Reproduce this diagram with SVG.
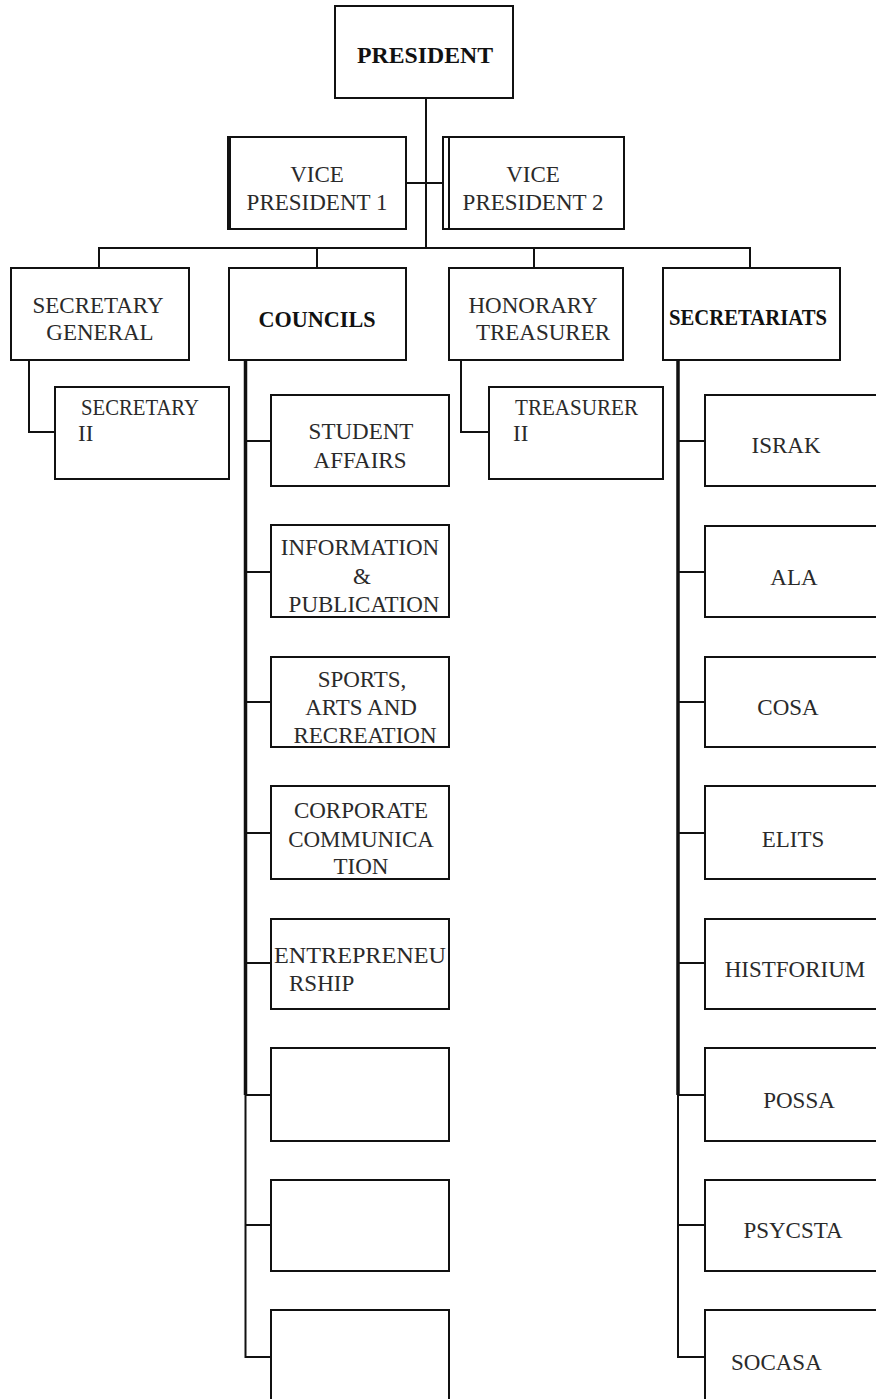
<svg xmlns="http://www.w3.org/2000/svg" width="876" height="1399" viewBox="0 0 876 1399">
<style>
.box{fill:#fff;stroke:#111;stroke-width:2}
.ln{fill:none;stroke:#111;stroke-width:2}
.thk{fill:none;stroke:#111;stroke-width:3.5}
text{font-family:"Liberation Serif","Times New Roman",serif;font-size:23px;fill:#2a2a2a}
.c{text-anchor:middle}
.b{font-weight:bold;fill:#111}
</style>
<rect width="876" height="1399" fill="#fff"/>
<g id="connectors">
<path class="ln" d="M426 98V248"/>
<path class="ln" d="M406 183H443"/>
<path class="ln" d="M99 268V248H750V268"/>
<path class="ln" d="M317 248V268"/>
<path class="ln" d="M534 248V268"/>
<path class="ln" d="M29 360V432H55"/>
<path class="ln" d="M461 360V432H489"/>
<path class="thk" d="M245.5 356V1095"/>
<path class="ln" d="M245.5 1095V1357H271"/>
<path class="ln" d="M245 441H271M245 572H271M245 702H271M245 833H271M245 963H271M245 1095H271M245 1225H271"/>
<path class="thk" d="M678 356V1095"/>
<path class="ln" d="M678 1095V1357H705"/>
<path class="ln" d="M678 441H705M678 572H705M678 702H705M678 833H705M678 963H705M678 1095H705M678 1225H705"/>
</g>
<g id="president"><rect class="box" x="335" y="6" width="178" height="92"/><text class="c b" x="425" y="63" font-size="24" textLength="136" lengthAdjust="spacingAndGlyphs">PRESIDENT</text></g>
<g id="vp1"><rect class="box" x="228" y="137" width="178" height="92"/><path class="ln" d="M230 137V229"/><text class="c" x="317" y="182">VICE</text><text class="c" x="317" y="210">PRESIDENT 1</text></g>
<g id="vp2"><rect class="box" x="443" y="137" width="181" height="92"/><path class="ln" d="M449 137V229"/><text class="c" x="533" y="182">VICE</text><text class="c" x="533" y="210">PRESIDENT 2</text></g>
<g id="secretary-general"><rect class="box" x="11" y="268" width="178" height="92"/><text class="c" x="98" y="313">SECRETARY</text><text class="c" x="100" y="340">GENERAL</text></g>
<g id="councils"><rect class="box" x="229" y="268" width="177" height="92"/><text class="c b" x="317" y="327" font-size="23" textLength="117" lengthAdjust="spacingAndGlyphs">COUNCILS</text></g>
<g id="honorary-treasurer"><rect class="box" x="449" y="268" width="174" height="92"/><text class="c" x="533" y="313">HONORARY</text><text class="c" x="543" y="340">TREASURER</text></g>
<g id="secretariats"><rect class="box" x="663" y="268" width="177" height="92"/><text class="c b" x="748" y="325" font-size="22" textLength="158" lengthAdjust="spacingAndGlyphs">SECRETARIATS</text></g>
<g id="secretary-ii"><rect class="box" x="55" y="387" width="174" height="92"/><text x="81" y="415" font-size="20" textLength="118" lengthAdjust="spacingAndGlyphs">SECRETARY</text><text x="78" y="441" font-size="20">II</text></g>
<g id="treasurer-ii"><rect class="box" x="489" y="387" width="174" height="92"/><text x="515" y="415" font-size="20" textLength="123" lengthAdjust="spacingAndGlyphs">TREASURER</text><text x="513" y="441" font-size="20">II</text></g>
<g id="student-affairs"><rect class="box" x="271" y="395" width="178" height="91"/><text class="c" x="361" y="439">STUDENT</text><text class="c" x="360" y="468">AFFAIRS</text></g>
<g id="information-publication"><rect class="box" x="271" y="525" width="178" height="92"/><text class="c" x="360" y="555">INFORMATION</text><text class="c" x="362" y="584">&amp;</text><text class="c" x="364" y="612">PUBLICATION</text></g>
<g id="sports-arts"><rect class="box" x="271" y="657" width="178" height="90"/><text class="c" x="362" y="687">SPORTS,</text><text class="c" x="361" y="715">ARTS AND</text><text class="c" x="365" y="743">RECREATION</text></g>
<g id="corporate-communication"><rect class="box" x="271" y="786" width="178" height="93"/><text class="c" x="361" y="818">CORPORATE</text><text class="c" x="361" y="847">COMMUNICA</text><text class="c" x="361" y="874">TION</text></g>
<g id="entrepreneurship"><rect class="box" x="271" y="919" width="178" height="90"/><text x="274" y="963" textLength="172" lengthAdjust="spacingAndGlyphs">ENTREPRENEU</text><text x="289" y="991">RSHIP</text></g>
<g id="council-empty-1"><rect class="box" x="271" y="1048" width="178" height="93"/></g>
<g id="council-empty-2"><rect class="box" x="271" y="1180" width="178" height="91"/></g>
<g id="council-empty-3"><rect class="box" x="271" y="1310" width="178" height="100"/></g>
<g id="israk"><rect class="box" x="705" y="395" width="180" height="91"/><text class="c" x="786" y="453">ISRAK</text></g>
<g id="ala"><rect class="box" x="705" y="526" width="180" height="91"/><text class="c" x="794" y="585">ALA</text></g>
<g id="cosa"><rect class="box" x="705" y="657" width="180" height="90"/><text class="c" x="788" y="715">COSA</text></g>
<g id="elits"><rect class="box" x="705" y="786" width="180" height="93"/><text class="c" x="793" y="847">ELITS</text></g>
<g id="histforium"><rect class="box" x="705" y="919" width="180" height="90"/><text class="c" x="795" y="977">HISTFORIUM</text></g>
<g id="possa"><rect class="box" x="705" y="1048" width="180" height="93"/><text class="c" x="799" y="1108">POSSA</text></g>
<g id="psycsta"><rect class="box" x="705" y="1180" width="180" height="91"/><text class="c" x="793" y="1238">PSYCSTA</text></g>
<g id="socasa"><rect class="box" x="705" y="1310" width="180" height="100"/><text x="731" y="1370">SOCASA</text></g>
</svg>
